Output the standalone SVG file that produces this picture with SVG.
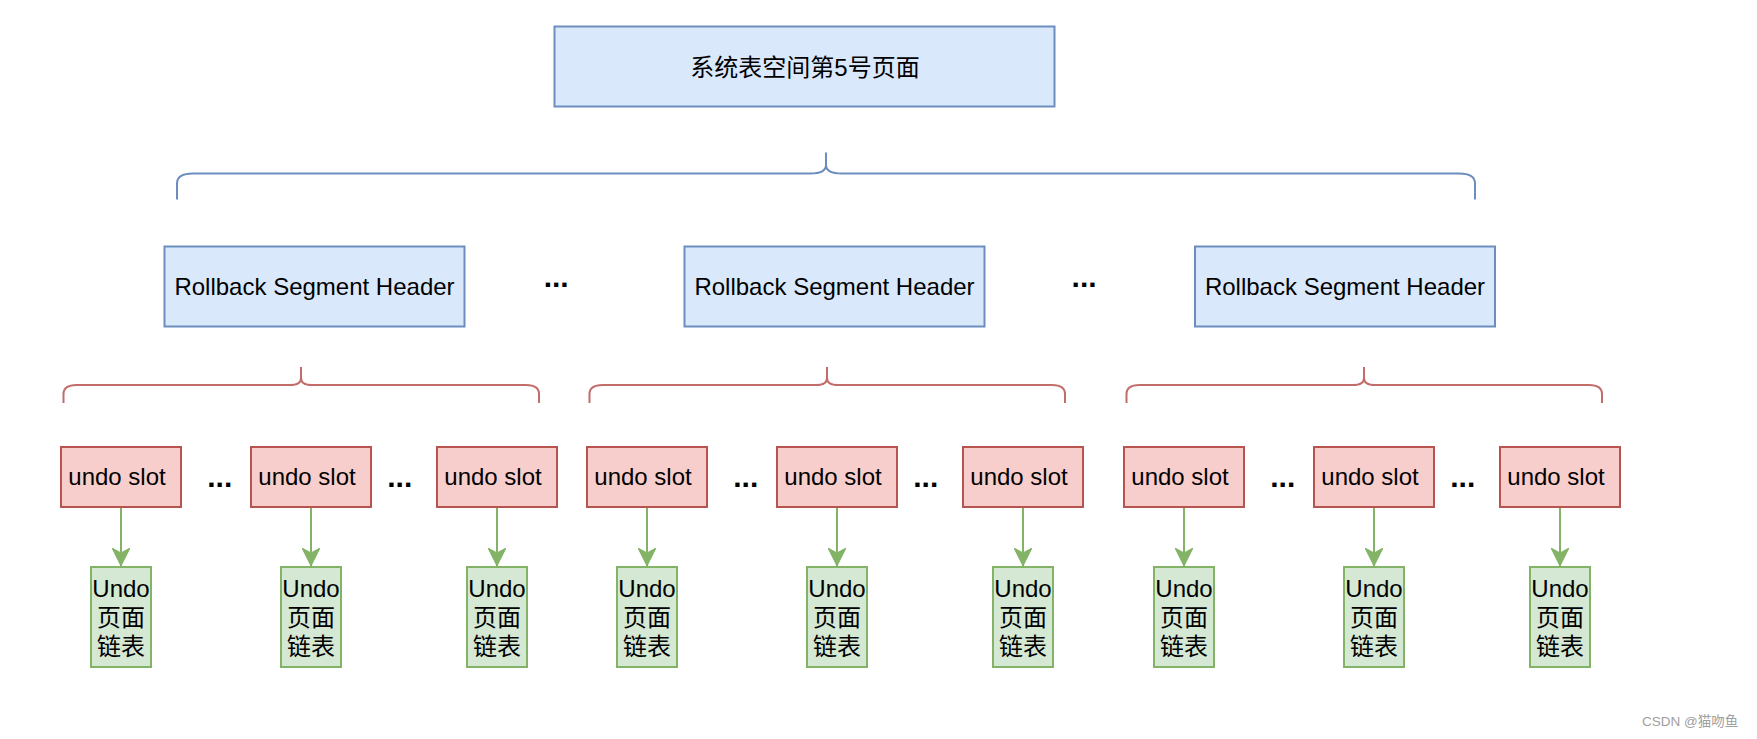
<svg xmlns="http://www.w3.org/2000/svg" width="1757" height="739" viewBox="0 0 1757 739">
<style>
text{font-family:"Liberation Sans","Noto Sans CJK SC",sans-serif;font-size:24px;fill:#000;text-anchor:middle}
.blue{fill:#dae8fc;stroke:#6c8ebf;stroke-width:2}
.red{fill:#f8cecc;stroke:#b85450;stroke-width:2}
.green{fill:#d5e8d4;stroke:#82b366;stroke-width:2}
.bb{fill:none;stroke:#6c8ebf;stroke-width:2}
.rb{fill:none;stroke:#b85450;stroke-width:2;stroke-opacity:0.85}
.dots{font-weight:bold;font-size:30px}
.arr{stroke:#82b366;stroke-width:2;fill:none;marker-end:url(#ah)}
.wm{font-size:13.5px;fill:#a0a0a0;text-anchor:start}
</style>
<defs>
<marker id="ah" markerUnits="userSpaceOnUse" markerWidth="18" markerHeight="18" viewBox="0 0 18 18" refX="18" refY="9" orient="auto">
<path d="M0,0 L18,9 L0,18 L5,9 Z" fill="#82b366" stroke="#82b366" stroke-width="1"/>
</marker>
</defs>
<rect width="1757" height="739" fill="#fff"/>

<g id="page5"><rect class="blue" x="554.5" y="26.5" width="500" height="80"/><text x="805" y="76">系统表空间第5号页面</text></g>

<g id="brace-top"><path class="bb" d="M177,199.5 L177,183.5 Q177,173.5 193,173.5 L810,173.5 Q826,173.5 826,165 L826,152.5 L826,165 Q826,173.5 842,173.5 L1459,173.5 Q1475,173.5 1475,183.5 L1475,199.5"/></g>

<g id="rsh1"><rect class="blue" x="164.5" y="246.5" width="300" height="80"/><text x="314.5" y="295">Rollback Segment Header</text></g>
<g id="rsh2"><rect class="blue" x="684.5" y="246.5" width="300" height="80"/><text x="834.5" y="295">Rollback Segment Header</text></g>
<g id="rsh3"><rect class="blue" x="1195" y="246.5" width="300" height="80"/><text x="1345" y="295">Rollback Segment Header</text></g>
<g id="dots-top1"><text class="dots" x="556.2" y="286.7">...</text></g>
<g id="dots-top2"><text class="dots" x="1084.1" y="286.7">...</text></g>

<g id="brace-g1"><path class="rb" d="M63.5,403 L63.5,394 Q63.5,385 76.5,385 L290,385 Q301,385 301,378 L301,367 L301,378 Q301,385 312,385 L526,385 Q539,385 539,394 L539,403"/></g>
<g id="brace-g2"><path class="rb" d="M589.5,403 L589.5,394 Q589.5,385 602.5,385 L816,385 Q827,385 827,378 L827,367 L827,378 Q827,385 838,385 L1052,385 Q1065,385 1065,394 L1065,403"/></g>
<g id="brace-g3"><path class="rb" d="M1126.5,403 L1126.5,394 Q1126.5,385 1139.5,385 L1353,385 Q1364,385 1364,378 L1364,367 L1364,378 Q1364,385 1375,385 L1589,385 Q1602,385 1602,394 L1602,403"/></g>

<g id="slot1-1"><rect class="red" x="61" y="447" width="120" height="60"/><text x="117" y="485">undo slot</text></g>
<g id="slot1-2"><rect class="red" x="251" y="447" width="120" height="60"/><text x="307" y="485">undo slot</text></g>
<g id="slot1-3"><rect class="red" x="437" y="447" width="120" height="60"/><text x="493" y="485">undo slot</text></g>
<g id="slot2-1"><rect class="red" x="587" y="447" width="120" height="60"/><text x="643" y="485">undo slot</text></g>
<g id="slot2-2"><rect class="red" x="777" y="447" width="120" height="60"/><text x="833" y="485">undo slot</text></g>
<g id="slot2-3"><rect class="red" x="963" y="447" width="120" height="60"/><text x="1019" y="485">undo slot</text></g>
<g id="slot3-1"><rect class="red" x="1124" y="447" width="120" height="60"/><text x="1180" y="485">undo slot</text></g>
<g id="slot3-2"><rect class="red" x="1314" y="447" width="120" height="60"/><text x="1370" y="485">undo slot</text></g>
<g id="slot3-3"><rect class="red" x="1500" y="447" width="120" height="60"/><text x="1556" y="485">undo slot</text></g>

<g id="dots-s1a"><text class="dots" x="219.8" y="486.7">...</text></g>
<g id="dots-s1b"><text class="dots" x="399.8" y="486.7">...</text></g>
<g id="dots-s2a"><text class="dots" x="745.8" y="486.7">...</text></g>
<g id="dots-s2b"><text class="dots" x="925.8" y="486.7">...</text></g>
<g id="dots-s3a"><text class="dots" x="1282.8" y="486.7">...</text></g>
<g id="dots-s3b"><text class="dots" x="1462.8" y="486.7">...</text></g>

<g id="undo1-1"><rect class="green" x="91" y="567" width="60" height="100"/><text x="121" y="596.5">Undo</text><text x="121" y="625.5">页面</text><text x="121" y="654.5">链表</text></g>
<g id="undo1-2"><rect class="green" x="281" y="567" width="60" height="100"/><text x="311" y="596.5">Undo</text><text x="311" y="625.5">页面</text><text x="311" y="654.5">链表</text></g>
<g id="undo1-3"><rect class="green" x="467" y="567" width="60" height="100"/><text x="497" y="596.5">Undo</text><text x="497" y="625.5">页面</text><text x="497" y="654.5">链表</text></g>
<g id="undo2-1"><rect class="green" x="617" y="567" width="60" height="100"/><text x="647" y="596.5">Undo</text><text x="647" y="625.5">页面</text><text x="647" y="654.5">链表</text></g>
<g id="undo2-2"><rect class="green" x="807" y="567" width="60" height="100"/><text x="837" y="596.5">Undo</text><text x="837" y="625.5">页面</text><text x="837" y="654.5">链表</text></g>
<g id="undo2-3"><rect class="green" x="993" y="567" width="60" height="100"/><text x="1023" y="596.5">Undo</text><text x="1023" y="625.5">页面</text><text x="1023" y="654.5">链表</text></g>
<g id="undo3-1"><rect class="green" x="1154" y="567" width="60" height="100"/><text x="1184" y="596.5">Undo</text><text x="1184" y="625.5">页面</text><text x="1184" y="654.5">链表</text></g>
<g id="undo3-2"><rect class="green" x="1344" y="567" width="60" height="100"/><text x="1374" y="596.5">Undo</text><text x="1374" y="625.5">页面</text><text x="1374" y="654.5">链表</text></g>
<g id="undo3-3"><rect class="green" x="1530" y="567" width="60" height="100"/><text x="1560" y="596.5">Undo</text><text x="1560" y="625.5">页面</text><text x="1560" y="654.5">链表</text></g>

<g id="connectors">
<line class="arr" x1="121" y1="508" x2="121" y2="566"/>
<line class="arr" x1="311" y1="508" x2="311" y2="566"/>
<line class="arr" x1="497" y1="508" x2="497" y2="566"/>
<line class="arr" x1="647" y1="508" x2="647" y2="566"/>
<line class="arr" x1="837" y1="508" x2="837" y2="566"/>
<line class="arr" x1="1023" y1="508" x2="1023" y2="566"/>
<line class="arr" x1="1184" y1="508" x2="1184" y2="566"/>
<line class="arr" x1="1374" y1="508" x2="1374" y2="566"/>
<line class="arr" x1="1560" y1="508" x2="1560" y2="566"/>
</g>

<text class="wm" x="1642" y="726">CSDN @猫吻鱼</text>
</svg>
